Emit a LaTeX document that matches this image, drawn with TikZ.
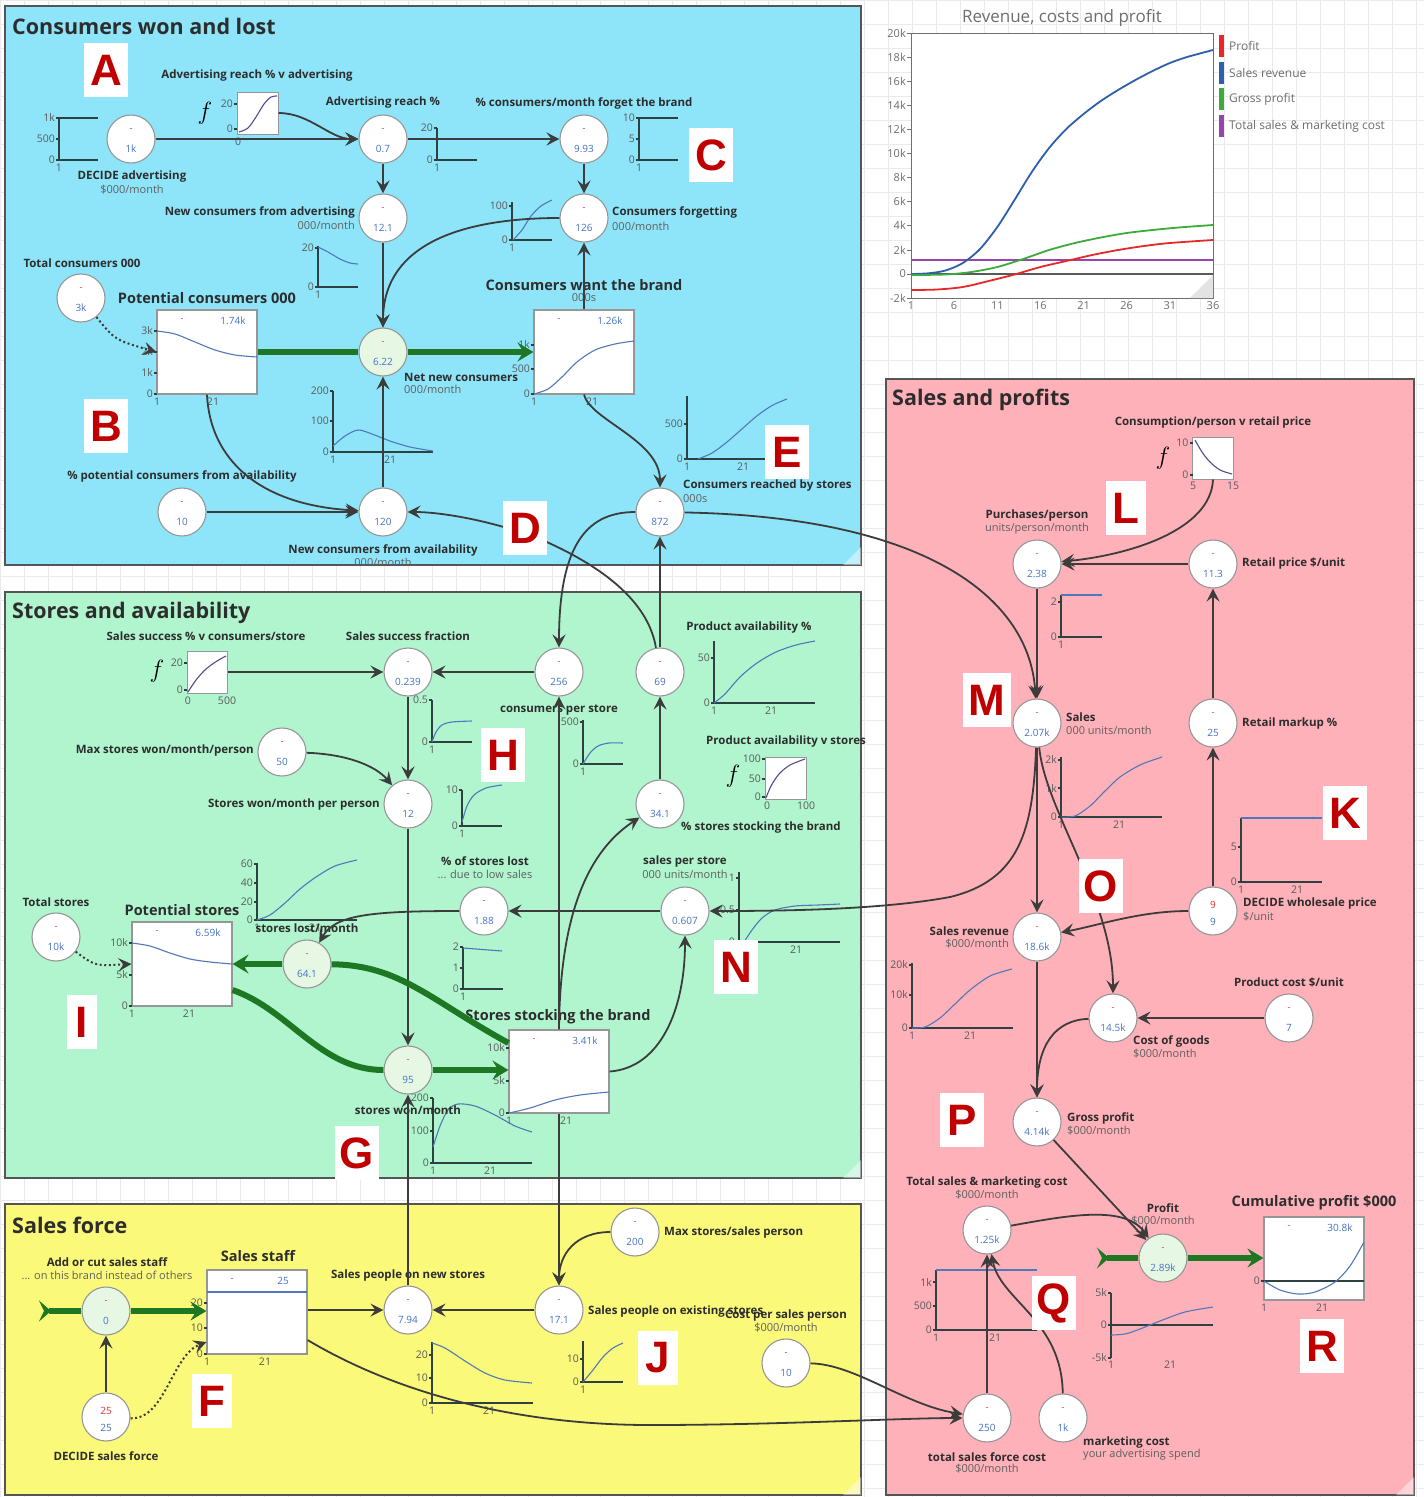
\documentclass[tikz,border=0pt]{standalone}
\usepackage{fontspec}
\setmainfont{Open Sans}
\newfontfamily\letterfont{Liberation Sans}
\usetikzlibrary{arrows.meta,calc}

\definecolor{pblue}{RGB}{142,229,250}
\definecolor{pgreen}{RGB}{176,245,206}
\definecolor{pyellow}{RGB}{250,249,122}
\definecolor{ppink}{RGB}{255,177,185}
\definecolor{framec}{RGB}{85,85,85}
\definecolor{linkc}{RGB}{60,60,60}
\definecolor{flowgreen}{RGB}{30,120,35}
\definecolor{ringgray}{RGB}{150,150,150}
\definecolor{valveface}{RGB}{230,248,228}
\definecolor{axisc}{RGB}{45,65,65}
\definecolor{datac}{RGB}{80,120,185}
\definecolor{fdatac}{RGB}{85,75,140}
\definecolor{valc}{RGB}{70,115,195}
\definecolor{dashc}{RGB}{225,50,50}
\definecolor{txtc}{RGB}{45,45,45}
\definecolor{subc}{RGB}{95,95,95}
\definecolor{tickc}{RGB}{90,90,90}
\definecolor{letterc}{RGB}{192,0,0}
\definecolor{gridc}{RGB}{234,234,234}
\definecolor{chgray}{RGB}{110,110,110}
\definecolor{revblue}{RGB}{45,95,170}
\definecolor{gpgreen}{RGB}{60,170,60}
\definecolor{prred}{RGB}{230,40,40}
\definecolor{smpurple}{RGB}{150,70,170}

\tikzset{
  panel/.style={draw=framec, line width=1.2pt},
  varc/.style={circle, draw=ringgray, fill=white, line width=1.1pt, minimum size=48pt, inner sep=0pt},
  valve/.style={varc, fill=valveface},
  stockbox/.style={draw=ringgray, fill=white, line width=1.1pt, minimum width=100pt, inner sep=0pt},
  fbox/.style={draw=ringgray, fill=white, line width=1pt, minimum width=41pt, minimum height=42pt, inner sep=0pt},
  lbl/.style={font=\fontsize{11.5}{13}\selectfont\bfseries, text=txtc, inner sep=0pt},
  sub/.style={font=\fontsize{11}{12}\selectfont, text=subc, inner sep=0pt},
  stitle/.style={font=\fontsize{14.5}{16}\selectfont\bfseries, text=txtc, inner sep=0pt},
  ptitle/.style={font=\fontsize{21.5}{24}\selectfont\bfseries, text=txtc, inner sep=0pt, anchor=west},
  valtxt/.style={font=\fontsize{10}{11}\selectfont, text=valc, inner sep=0pt},
  dashtxt/.style={font=\fontsize{9}{10}\selectfont, text=dashc, inner sep=0pt},
  ticktxt/.style={font=\fontsize{10.5}{11}\selectfont, text=tickc, inner sep=1pt},
  axisl/.style={draw=axisc, line width=1.1pt},
  dataline/.style={draw=datac, line width=1.1pt},
  fdata/.style={draw=fdatac, line width=1.1pt},
  arr/.style={draw=linkc, line width=1.8pt, arrows={-Stealth[length=13pt,width=13pt,inset=5pt]}},
  dotarr/.style={arr, dash pattern=on 2pt off 2.6pt, line width=2pt},
  flowl/.style={draw=flowgreen, line width=6pt},
  flowarr/.style={flowl, arrows={-Stealth[length=16pt,width=19pt,inset=6pt]}},
  tailtip/.style={arrows={Stealth[reversed,length=12pt,width=21pt,inset=5pt]-}},
  letterbox/.style={fill=white, text=letterc, font=\letterfont\fontsize{44}{44}\selectfont\bfseries, minimum width=44pt, minimum height=54pt, inner sep=0pt},
  fsym/.style={inner sep=0pt, font=\fontsize{25}{25}\selectfont},
  chtick/.style={font=\fontsize{11}{12}\selectfont, text=chgray, inner sep=1pt},
  legtxt/.style={font=\fontsize{12}{13}\selectfont, text=chgray, inner sep=1pt, anchor=west},
}

\newcounter{tkc}
\newcommand{\ytk}[3]{\stepcounter{tkc}\draw[axisl] (#1-3,#2) -- (#1,#2);
  \node[ticktxt,anchor=east] (tk\arabic{tkc}) at (#1-3,#2) {#3};}
\newcommand{\xtk}[3]{\stepcounter{tkc}\node[ticktxt,anchor=north] (tk\arabic{tkc}) at (#1,#2) {#3};}
\newcommand{\chartax}[4]{\draw[axisl] (#1,#2) -- (#1,#3) -- (#4,#3);}
\newcommand{\cvar}[4][varc]{%
  \node[#1] (#2) at (#3) {};
  \node[dashtxt] (#2d) at ([yshift=9pt]#2.center) {-};
  \node[valtxt] (#2v) at ([yshift=-10pt]#2.center) {#4};}
\newcommand{\cdec}[4]{%
  \node[varc] (#1) at (#2) {};
  \node[valtxt,text=dashc] (#1r) at ([yshift=6pt]#1.center) {#3};
  \node[valtxt] (#1b) at ([yshift=-11pt]#1.center) {#4};}
\newcommand{\stocknode}[4]{%
  \node[stockbox, minimum height=#4] (#1) at (#2) {};
  \node[dashtxt] (#1d) at ([xshift=-25pt,yshift=-11pt]#1.north) {-};
  \node[valtxt] (#1v) at ([xshift=26pt,yshift=-11pt]#1.north) {#3};}

\begin{document}
\begin{tikzpicture}[x=1pt,y=-1pt]
\useasboundingbox (0,0) rectangle (1424,1497);
\fill[white] (0,0) rectangle (1424,1497);
\foreach \gx in {0,24,...,1416} \draw[gridc, line width=0.8pt] (\gx,0) -- (\gx,1497);
\foreach \gy in {0,24,...,1488} \draw[gridc, line width=0.8pt] (0,\gy) -- (1424,\gy);

% ---------- panels ----------
\draw[panel, fill=pblue] (5,6) rectangle (861,565);
\draw[panel, fill=pgreen] (5,592) rectangle (861,1178);
\draw[panel, fill=pyellow] (5,1204) rectangle (861,1495);
\draw[panel, fill=ppink] (886,379) rectangle (1414,1495);
\fill[white, opacity=0.45] (843,565) -- (861,547) -- (861,565) -- cycle;
\fill[white, opacity=0.45] (843,1178) -- (861,1160) -- (861,1178) -- cycle;
\fill[white, opacity=0.45] (843,1495) -- (861,1477) -- (861,1495) -- cycle;
\fill[white, opacity=0.45] (1396,1495) -- (1414,1477) -- (1414,1495) -- cycle;

% ---------- revenue chart ----------
\node[font=\fontsize{17}{19}\selectfont, text=chgray, inner sep=0pt] (chTitle) at (1062,18) {Revenue, costs and profit};
\draw[draw=chgray, fill=white, line width=1pt] (911,33) rectangle (1213,298);
\fill[gray!22] (1190,298) -- (1213,275) -- (1213,298) -- cycle;
\foreach \yy/\lab [count=\i] in {33/20k,57.1/18k,81.2/16k,105.3/14k,129.4/12k,153.5/10k,177.6/8k,201.7/6k,225.8/4k,249.9/2k,274/0,298/-2k}{
  \draw[chgray, line width=0.8pt] (907,\yy) -- (911,\yy);
  \node[chtick, anchor=east] (cy\i) at (907,\yy) {\lab};}
\foreach \xx/\lab [count=\i] in {911/1,954.1/6,997.3/11,1040.4/16,1083.6/21,1126.7/26,1169.9/31,1213/36}{
  \node[chtick, anchor=north] (cx\i) at (\xx,300) {\lab};}
\draw[black!65, line width=1.3pt] (911,274) -- (1213,274);
\draw[smpurple, line width=1.8pt] (911,260) -- (1213,260);
\draw[revblue, line width=1.8pt] plot[smooth] coordinates {(911,274) (928.3,273.3) (945.5,270.5) (962.8,263) (980,249) (997.3,227) (1014.5,200) (1031.8,172) (1049.1,148) (1066.3,129) (1083.6,114) (1100.8,101) (1118.1,90) (1135.4,80) (1152.6,71) (1169.9,63) (1187.1,57) (1213,50)};
\draw[gpgreen, line width=1.8pt] plot[smooth] coordinates {(911,275) (945.5,274.5) (971.4,272) (997.3,267) (1023.2,259) (1049.1,250) (1075,243) (1100.8,237.5) (1126.7,233) (1152.6,230) (1178.5,227.5) (1213,225)};
\draw[prred, line width=1.8pt] plot[smooth] coordinates {(911,290) (936.9,289.5) (962.8,287) (988.7,281) (1014.5,274.5) (1040.4,267) (1066.3,261) (1092.2,255) (1118.1,250) (1144,246) (1169.9,243) (1213,240)};
\fill[prred] (1219,35) rectangle (1224,57);
\fill[revblue] (1219,62) rectangle (1224,84);
\fill[gpgreen] (1219,88) rectangle (1224,110);
\fill[smpurple] (1219,115) rectangle (1224,137);
\node[legtxt] (lgProfit) at (1228,46) {Profit};
\node[legtxt] (lgRev) at (1228,73) {Sales revenue};
\node[legtxt] (lgGross) at (1228,99) {Gross profit};
\node[legtxt] (lgCost) at (1228,126) {Total sales \& marketing cost};

% ================= Consumers won and lost =================
\node[ptitle] (tBlue) at (12,26) {Consumers won and lost};
\chartax{59}{118}{160}{98}\draw[axisl] (59,118) -- (98,118);
\ytk{59}{118}{1k}\ytk{59}{139}{500}\ytk{59}{160}{0}\xtk{59}{163}{1}
\cvar{advDec}{131,139}{1k}
\node[fbox] (fAdv) at (257.5,113) {};
\ytk{237}{104}{20}\ytk{237}{129}{0}\xtk{238}{137}{0}
\draw[fdata] plot[smooth] coordinates {(239,132) (248,128) (256,117) (264,104) (271,97) (277,96)};
\node[fsym] (fAdvSym) at (205,113) {$f$};
\chartax{437}{128}{160}{477}\ytk{437}{128}{20}\ytk{437}{160}{0}\xtk{437}{163}{1}
\cvar{advReach}{383,139}{0.7}
\chartax{639}{118}{160}{678}\draw[axisl] (639,118) -- (678,118);
\ytk{639}{118}{10}\ytk{639}{139}{5}\ytk{639}{160}{0}\xtk{639}{163}{1}
\cvar{forget}{584,139}{9.93}
\chartax{318}{246}{287}{358}\ytk{318}{248}{20}\ytk{318}{287}{0}\xtk{318}{290}{1}
\draw[dataline] plot[smooth] coordinates {(318,247) (328,252) (340,259) (350,263) (358,264)};
\cvar{newAdv}{383,218}{12.1}
\chartax{512}{202}{240}{552}\ytk{512}{206}{100}\ytk{512}{240}{0}\xtk{512}{243}{1}
\draw[dataline] plot[smooth] coordinates {(513,240) (522,230) (531,216) (541,206) (552,200)};
\cvar{forgetting}{584,218}{126}
\cvar{totCons}{81,298}{3k}
\stocknode{potCons}{207,352}{1.74k}{84pt}
\ytk{157}{331}{3k}\ytk{157}{352}{2k}\ytk{157}{373}{1k}\ytk{157}{394}{0}\xtk{157}{397}{1}\xtk{213}{397}{21}
\draw[dataline] plot[smooth] coordinates {(157,331) (175,334) (195,342) (215,350) (235,355) (257,357)};
\cvar[valve]{netNew}{383,352}{6.22}
\chartax{333}{391}{452}{433}\ytk{333}{391}{200}\ytk{333}{421}{100}\ytk{333}{452}{0}\xtk{333}{455}{1}\xtk{390}{455}{21}
\draw[dataline] plot[smooth] coordinates {(333,446) (345,436) (358,430) (372,434) (390,441) (410,447) (433,451)};
\stocknode{wantStock}{584,352}{1.26k}{84pt}
\ytk{534}{345}{1k}\ytk{534}{369}{500}\ytk{534}{394}{0}\xtk{534}{397}{1}\xtk{592}{397}{21}
\draw[dataline] plot[smooth] coordinates {(534,394) (548,389) (562,377) (577,362) (595,350) (615,344) (634,341)};
\chartax{687}{396}{459}{767}\ytk{687}{424}{500}\ytk{687}{459}{0}\xtk{687}{462}{1}\xtk{743}{462}{21}
\draw[dataline] plot[smooth] coordinates {(698,459) (712,453) (727,442) (743,428) (758,415) (773,405) (787,399)};
\cvar{potAvail}{182,512}{10}
\cvar{newAvail}{383,512}{120}
\cvar{reached}{660,512}{872}

\node[lbl] (lAdvF) at (257,76) {Advertising reach \% v advertising};
\node[lbl] (lAdvR) at (383,103) {Advertising reach \%};
\node[lbl] (lForget) at (584,103) {\% consumers/month forget the brand};
\node[lbl] (lAdvDec) at (132,177) {DECIDE advertising};
\node[sub] (uAdvDec) at (132,190) {\$000/month};
\node[lbl,anchor=east] (lNewAdv) at (355,212) {New consumers from advertising};
\node[sub,anchor=east] (uNewAdv) at (355,225) {000/month};
\node[lbl,anchor=west] (lForg) at (612,212) {Consumers forgetting};
\node[sub,anchor=west] (uForg) at (612,226) {000/month};
\node[lbl] (lTotCons) at (82,263) {Total consumers 000};
\node[stitle] (lPotCons) at (207,298) {Potential consumers 000};
\node[stitle] (lWant) at (584,285) {Consumers want the brand};
\node[sub] (uWant) at (584,298) {000s};
\node[lbl,anchor=west] (lNetNew) at (404,377) {Net new consumers};
\node[sub,anchor=west] (uNetNew) at (404,389) {000/month};
\node[lbl] (lPotAvail) at (182,476) {\% potential consumers from availability};
\node[lbl] (lNewAvail) at (383,550) {New consumers from availability};
\node[sub] (uNewAvail) at (383,562) {000/month};
\node[lbl,anchor=west] (lReached) at (683,486) {Consumers reached by stores};
\node[sub,anchor=west] (uReached) at (683,499) {000s};

% ================= Stores and availability =================
\node[ptitle] (tGreen) at (12,613) {Stores and availability};
\node[fbox, minimum width=40pt] (fSucc) at (207,672) {};
\ytk{187}{663}{20}\ytk{187}{690}{0}\xtk{188}{696}{0}\xtk{227}{696}{500}
\draw[fdata] plot[smooth] coordinates {(188,692) (196,680) (206,669) (217,661) (226,656)};
\node[fsym] (fSuccSym) at (157,671) {$f$};
\chartax{432}{700}{742}{472}\ytk{432}{700}{0.5}\ytk{432}{742}{0}\xtk{432}{745}{1}
\draw[dataline] plot[smooth] coordinates {(432,742) (436,732) (442,725) (452,722) (472,721)};
\cvar{succFrac}{408,672}{0.239}
\chartax{583}{720}{764}{623}\ytk{583}{722}{500}\ytk{583}{764}{0}\xtk{583}{767}{1}
\draw[dataline] plot[smooth] coordinates {(583,764) (590,753) (598,746) (609,743) (623,743)};
\cvar{perStore}{559,672}{256}
\chartax{714}{641}{703}{815}\ytk{714}{658}{50}\ytk{714}{703}{0}\xtk{714}{706}{1}\xtk{771}{706}{21}
\draw[dataline] plot[smooth] coordinates {(714,703) (725,694) (740,677) (757,663) (776,652) (796,645) (815,641)};
\cvar{prodAvail}{660,672}{69}
\cvar{maxStores}{282,752}{50}
\chartax{462}{790}{826}{502}\ytk{462}{790}{10}\ytk{462}{826}{0}\xtk{462}{829}{1}
\draw[dataline] plot[smooth] coordinates {(462,822) (467,806) (474,795) (486,788) (502,785)};
\cvar{storesWonPP}{408,804}{12}
\node[fbox] (fAvail) at (785.5,778) {};
\ytk{765}{759}{100}\ytk{765}{779}{50}\ytk{765}{797}{0}\xtk{767}{801}{0}\xtk{806}{801}{100}
\draw[fdata] plot[smooth] coordinates {(766,798) (771,786) (779,774) (790,765) (805,759)};
\node[fsym] (fAvailSym) at (733,776) {$f$};
\cvar{pctStock}{660,804}{34.1}
\chartax{463}{947}{989}{503}\ytk{463}{947}{2}\ytk{463}{968}{1}\ytk{463}{989}{0}\xtk{463}{992}{1}
\draw[dataline] (463,948) -- (502,951);
\cvar{pctLost}{484,911}{1.88}
\chartax{739}{872}{942}{840}\ytk{739}{878}{1}\ytk{739}{910}{0.5}\ytk{739}{942}{0}\xtk{796}{945}{21}
\draw[dataline] plot[smooth] coordinates {(744,942) (752,930) (762,918) (775,910) (795,906) (818,905) (840,904)};
\cvar{salesPerStore}{685,911}{0.607}
\cvar{totStores}{56,937}{10k}
\stocknode{potStores}{182,964}{6.59k}{84pt}
\ytk{132}{943}{10k}\ytk{132}{975}{5k}\ytk{132}{1006}{0}\xtk{132}{1009}{1}\xtk{189}{1009}{21}
\draw[dataline] plot[smooth] coordinates {(132,943) (150,946) (170,953) (190,959) (210,962) (232,964)};
\chartax{257}{863}{920}{357}\ytk{257}{864}{60}\ytk{257}{883}{40}\ytk{257}{902}{20}\ytk{257}{920}{0}\xtk{257}{923}{1}\xtk{315}{923}{21}
\draw[dataline] plot[smooth] coordinates {(257,920) (270,915) (285,903) (300,889) (316,877) (335,866) (357,860)};
\cvar[valve]{storesLost}{307,964}{64.1}
\chartax{433}{1098}{1163}{532}\ytk{433}{1098}{200}\ytk{433}{1131}{100}\ytk{433}{1163}{0}\xtk{433}{1166}{1}\xtk{490}{1166}{21}
\draw[dataline] plot[smooth] coordinates {(433,1147) (440,1126) (448,1110) (458,1104) (475,1106) (495,1115) (515,1126) (532,1132)};
\cvar[valve]{storesWon}{408,1070}{95}
\stocknode{storesStock}{559,1071.5}{3.41k}{83pt}
\ytk{509}{1048}{10k}\ytk{509}{1081}{5k}\ytk{509}{1113}{0}\xtk{509}{1116}{1}\xtk{566}{1116}{21}
\draw[dataline] plot[smooth] coordinates {(509,1113) (530,1108) (555,1100) (580,1095) (609,1092)};

\node[lbl] (lSuccF) at (206,636) {Sales success \% v consumers/store};
\node[lbl] (lSuccFrac) at (408,636) {Sales success fraction};
\node[lbl] (lProdAvail) at (749,628) {Product availability \%};
\node[lbl] (lPerStore) at (559,710) {consumers per store};
\node[lbl,anchor=east] (lMaxStores) at (254,751) {Max stores won/month/person};
\node[lbl] (lAvailF) at (786,742) {Product availability v stores};
\node[lbl,anchor=east] (lWonPP) at (380,805) {Stores won/month per person};
\node[lbl,anchor=west] (lPctStock) at (681,828) {\% stores stocking the brand};
\node[lbl] (lPctLost) at (485,861) {\% of stores lost};
\node[sub] (uPctLost) at (485,874) {... due to low sales};
\node[lbl] (lSPS) at (685,861) {sales per store};
\node[sub] (uSPS) at (685,874) {000 units/month};
\node[lbl] (lTotStores) at (56,902) {Total stores};
\node[stitle] (lPotStores) at (182,910) {Potential stores};
\node[lbl] (lLost) at (307,928) {stores lost/month};
\node[stitle] (lStock) at (558,1017) {Stores stocking the brand};
\node[lbl] (lWon) at (408,1110) {stores won/month};

% ================= Sales force =================
\node[ptitle] (tYellow) at (12,1225) {Sales force};
\cvar[valve]{addCut}{106,1311}{0}
\stocknode{salesStaff}{257,1312}{25}{84pt}
\draw[dataline] (207,1292) -- (307,1292);
\ytk{207}{1303}{20}\ytk{207}{1328}{10}\ytk{207}{1354}{0}\xtk{207}{1357}{1}\xtk{265}{1357}{21}
\cdec{decSF}{106,1417}{25}{25}
\chartax{432}{1342}{1403}{533}\ytk{432}{1355}{20}\ytk{432}{1378}{10}\ytk{432}{1403}{0}\xtk{432}{1406}{1}\xtk{489}{1406}{21}
\draw[dataline] plot[smooth] coordinates {(432,1343) (445,1348) (465,1361) (485,1373) (505,1380) (532,1383)};
\cvar{newSP}{408,1310}{7.94}
\chartax{583}{1341}{1382}{623}\ytk{583}{1359}{10}\ytk{583}{1382}{0}\xtk{583}{1385}{1}
\draw[dataline] plot[smooth] coordinates {(583,1382) (593,1370) (603,1357) (613,1348) (623,1343)};
\cvar{existSP}{559,1310}{17.1}
\cvar{maxSP}{635,1232}{200}
\cvar{costSP}{786,1363}{10}
\coordinate (addTail) at (39,1311);

\node[lbl] (lAddCut) at (107,1262) {Add or cut sales staff};
\node[sub] (uAddCut) at (107,1275) {... on this brand instead of others};
\node[stitle] (lStaff) at (258,1256) {Sales staff};
\node[lbl] (lNewSP) at (408,1275) {Sales people on new stores};
\node[lbl,anchor=west] (lMaxSP) at (664,1232) {Max stores/sales person};
\node[lbl,anchor=west] (lExistSP) at (588,1311) {Sales people on existing stores};
\node[lbl] (lCostSP) at (786,1315) {Cost per sales person};
\node[sub] (uCostSP) at (786,1328) {\$000/month};
\node[lbl] (lDecSF) at (106,1456) {DECIDE sales force};

% ================= Sales and profits =================
\node[ptitle] (tPink) at (892,400) {Sales and profits};
\node[fbox] (fCons) at (1213,458) {};
\ytk{1192.5}{443}{10}\ytk{1192.5}{475}{0}\xtk{1193}{481}{5}\xtk{1233}{481}{15}
\draw[fdata] plot[smooth] coordinates {(1195,440) (1202,452) (1210,462) (1220,470) (1232,474)};
\node[fsym] (fConsSym) at (1163,458) {$f$};
\chartax{1061}{595}{637}{1102}\draw[dataline] (1061,595) -- (1102,595);
\ytk{1061}{602}{2}\ytk{1061}{637}{0}\xtk{1061}{640}{1}
\cvar{purch}{1037,564}{2.38}
\cvar{retail}{1213,564}{11.3}
\chartax{1061}{757}{817}{1162}\ytk{1061}{760}{2k}\ytk{1061}{788}{1k}\ytk{1061}{817}{0}\xtk{1061}{820}{1}\xtk{1119}{820}{21}
\draw[dataline] plot[smooth] coordinates {(1061,817) (1075,816) (1090,806) (1105,791) (1120,777) (1140,765) (1162,757)};
\cvar{sales}{1037,723}{2.07k}
\cvar{markup}{1213,723}{25}
\chartax{1241}{818}{882}{1322}\draw[dataline] (1241,818) -- (1322,818);
\ytk{1241}{847}{5}\ytk{1241}{882}{0}\xtk{1241}{885}{1}\xtk{1297}{885}{21}
\cdec{wholesale}{1213,911}{9}{9}
\chartax{912}{963}{1028}{1013}\ytk{912}{965}{20k}\ytk{912}{995}{10k}\ytk{912}{1028}{0}\xtk{912}{1031}{1}\xtk{970}{1031}{21}
\draw[dataline] plot[smooth] coordinates {(912,1028) (925,1027) (940,1018) (955,1004) (970,990) (990,976) (1012,969)};
\cvar{salesRev}{1037,937}{18.6k}
\cvar{COG}{1113,1018}{14.5k}
\cvar{prodCost}{1289,1018}{7}
\cvar{gross}{1037,1122}{4.14k}
\chartax{936}{1270}{1330}{1037}\draw[dataline] (936,1270) -- (1037,1270);
\ytk{936}{1282}{1k}\ytk{936}{1306}{500}\ytk{936}{1330}{0}\xtk{936}{1333}{1}\xtk{995}{1333}{21}
\cvar{totSM}{987,1230}{1.25k}
\draw[axisl] (1111,1293) -- (1111,1358); \draw[axisl] (1111,1325) -- (1213,1325);
\ytk{1111}{1293}{5k}\ytk{1111}{1325}{0}\ytk{1111}{1358}{-5k}\xtk{1111}{1360}{1}\xtk{1170}{1360}{21}
\draw[dataline] plot[smooth] coordinates {(1111,1335) (1125,1334) (1140,1329) (1160,1321) (1185,1312) (1213,1307)};
\cvar[valve]{profit}{1163,1258}{2.89k}
\stocknode{cumProfit}{1314,1258.5}{30.8k}{83pt}
\draw[axisl] (1264,1281) -- (1364,1281);
\ytk{1264}{1281}{0}\xtk{1264}{1303}{1}\xtk{1322}{1303}{21}
\draw[dataline] plot[smooth] coordinates {(1264,1281) (1280,1290) (1298,1294) (1315,1292) (1335,1282) (1350,1266) (1364,1242)};
\cvar{totalSF}{987,1418}{250}
\cvar{mktCost}{1063,1418}{1k}
\coordinate (profTail) at (1097,1258);

\node[lbl] (lConsF) at (1213,423) {Consumption/person v retail price};
\node[lbl] (lPurch) at (1037,516) {Purchases/person};
\node[sub] (uPurch) at (1037,529) {units/person/month};
\node[lbl,anchor=west] (lRetail) at (1242,564) {Retail price \$/unit};
\node[lbl,anchor=west] (lSales) at (1066,717) {Sales};
\node[sub,anchor=west] (uSales) at (1066,730) {000 units/month};
\node[lbl,anchor=west] (lMarkup) at (1242,724) {Retail markup \%};
\node[lbl,anchor=west] (lWholesale) at (1243,904) {DECIDE wholesale price};
\node[sub,anchor=west] (uWholesale) at (1243,917) {\$/unit};
\node[lbl,anchor=east] (lSalesRev) at (1009,931) {Sales revenue};
\node[sub,anchor=east] (uSalesRev) at (1009,944) {\$000/month};
\node[lbl] (lProdCost) at (1289,982) {Product cost \$/unit};
\node[lbl,anchor=west] (lCOG) at (1133,1041) {Cost of goods};
\node[sub,anchor=west] (uCOG) at (1133,1054) {\$000/month};
\node[lbl,anchor=west] (lGross) at (1067,1118) {Gross profit};
\node[sub,anchor=west] (uGross) at (1067,1131) {\$000/month};
\node[lbl] (lTotSM) at (987,1182) {Total sales \& marketing cost};
\node[sub] (uTotSM) at (987,1195) {\$000/month};
\node[lbl] (lProfit) at (1163,1208) {Profit};
\node[sub] (uProfit) at (1163,1221) {\$000/month};
\node[stitle] (lCum) at (1314,1203) {Cumulative profit \$000};
\node[lbl] (lTotalSF) at (987,1457) {total sales force cost};
\node[sub] (uTotalSF) at (987,1469) {\$000/month};
\node[lbl,anchor=west] (lMkt) at (1083,1442) {marketing cost};
\node[sub,anchor=west] (uMkt) at (1083,1455) {your advertising spend};

% ================= connectors =================
% consumers
\draw[arr] (advDec) -- (advReach);
\draw[arr] (fAdv.east) .. controls (310,113) and (330,139) .. (advReach);
\draw[arr] (advReach) -- (forget);
\draw[arr] (advReach) -- (newAdv);
\draw[arr] (forget) -- (forgetting);
\draw[arr] (newAdv) -- (netNew);
\draw[arr] (newAvail) -- (netNew);
\draw[arr] (potAvail) -- (newAvail);
\draw[arr] (forgetting) .. controls (470,218) and (383,240) .. (netNew);
\draw[arr] (wantStock.north) -- (forgetting);
\draw[arr] (potCons.south) .. controls (210,460) and (260,505) .. (newAvail);
\draw[arr] (wantStock.south) .. controls (590,420) and (660,440) .. (reached);
\draw[dotarr] (totCons) .. controls (115,340) .. (potCons.west);
\draw[flowl] (potCons.east) -- (netNew.west);
\draw[flowarr] (netNew.east) -- (wantStock.west);
\draw[arr] (reached) .. controls (590,512) and (559,540) .. (perStore);
\draw[arr] (prodAvail) -- (reached);
\draw[arr] (prodAvail) .. controls (648,600) and (600,565) .. (540,539) .. controls (490,520) and (440,512) .. (newAvail);
\draw[arr] (reached) .. controls (930,517) and (1030,600) .. (sales);
% stores
\draw[arr] (fSucc) -- (succFrac);
\draw[arr] (perStore) -- (succFrac);
\draw[arr] (succFrac) -- (storesWonPP);
\draw[arr] (maxStores) .. controls (345,754) and (375,765) .. (storesWonPP);
\draw[arr] (storesWonPP) -- (storesWon);
\draw[arr] (newSP) -- (storesWon);
\draw[arr] (storesStock.north) -- (perStore);
\draw[arr] (storesStock.north) .. controls (560,910) and (590,850) .. (pctStock);
\draw[arr] (storesStock.east) .. controls (660,1068) and (685,1010) .. (salesPerStore);
\draw[arr] (pctStock) -- (prodAvail);
\draw[arr] (salesPerStore) -- (pctLost);
\draw[arr] (pctLost) .. controls (370,911) and (335,915) .. (storesLost);
\draw[arr] (sales) .. controls (1033,830) and (1020,880) .. (950,897) .. controls (880,910) and (780,911) .. (salesPerStore);
\draw[flowl] ([yshift=28.5pt]storesStock.west) .. controls (430,1000) and (400,965) .. (storesLost);
\draw[flowarr] (storesLost.west) -- (potStores.east);
\draw[flowl] ([yshift=-26pt]potStores.east) .. controls (290,1010) and (320,1070) .. (storesWon);
\draw[flowarr] (storesWon.east) -- (storesWon.east -| storesStock.west);
\draw[dotarr] (totStores) .. controls (95,966) .. (potStores.west);
% sales force
\draw[flowl, tailtip] (addTail) -- (addCut.west);
\draw[flowarr] (addCut.east) -- (addCut.east -| salesStaff.west);
\draw[arr] (decSF) -- (addCut);
\draw[dotarr] (decSF) .. controls (165,1420) and (172,1355) .. ([yshift=-30pt]salesStaff.west);
\draw[arr] (salesStaff.east |- newSP) -- (newSP);
\draw[arr] (existSP) -- (newSP);
\draw[arr] (maxSP) .. controls (575,1232) and (559,1255) .. (existSP);
\draw[arr] (storesStock.south) -- (existSP);
\draw[arr] ([yshift=-28pt]salesStaff.east) .. controls (400,1395) and (520,1425) .. (650,1425) .. controls (780,1425) and (900,1418) .. (totalSF);
\draw[arr] (costSP) .. controls (855,1364) and (905,1405) .. (totalSF);
% sales and profits
\draw[arr] (fCons.south) .. controls (1211,530) and (1130,555) .. (purch);
\draw[arr] (retail) -- (purch);
\draw[arr] (purch) -- (sales);
\draw[arr] (markup) -- (retail);
\draw[arr] (wholesale) -- (markup);
\draw[arr] (sales) -- (salesRev);
\draw[arr] (wholesale) .. controls (1140,911) and (1100,925) .. (salesRev);
\draw[arr] (sales) .. controls (1045,810) and (1113,900) .. (COG);
\draw[arr] (prodCost) -- (COG);
\draw[arr] (salesRev) -- (gross);
\draw[arr] (COG) .. controls (1055,1020) and (1037,1045) .. (gross);
\draw[arr] (gross) -- (profit);
\draw[arr] (totSM) .. controls (1070,1215) and (1125,1205) .. (profit);
\draw[arr] (totalSF) -- (totSM);
\draw[arr] (mktCost) .. controls (1062,1320) and (1000,1300) .. (totSM);
\draw[flowl, tailtip] (profTail) -- (profit.west);
\draw[flowarr] (profit.east) -- (profit.east -| cumProfit.west);

% ================= section letters =================
\node[letterbox] (letA) at (106,70) {A};
\node[letterbox] (letB) at (106,426) {B};
\node[letterbox] (letC) at (711,155) {C};
\node[letterbox] (letD) at (525,528) {D};
\node[letterbox] (letE) at (787,452) {E};
\node[letterbox] (letH) at (503,755) {H};
\node[letterbox, minimum width=30pt] (letI) at (82,1022) {I};
\node[letterbox] (letN) at (736,967) {N};
\node[letterbox] (letG) at (357,1153) {G};
\node[letterbox, minimum width=40pt] (letF) at (212,1401) {F};
\node[letterbox, minimum width=40pt] (letJ) at (658,1358) {J};
\node[letterbox, minimum width=40pt] (letL) at (1126,508) {L};
\node[letterbox, minimum width=48pt] (letM) at (987,700) {M};
\node[letterbox] (letK) at (1345,813) {K};
\node[letterbox] (letO) at (1101,886) {O};
\node[letterbox] (letP) at (962,1120) {P};
\node[letterbox] (letQ) at (1054,1303) {Q};
\node[letterbox] (letR) at (1322,1346) {R};
\end{tikzpicture}
\end{document}
